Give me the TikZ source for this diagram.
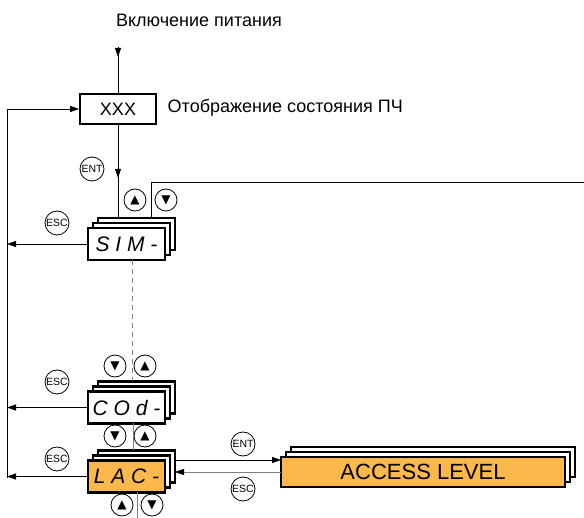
\documentclass[tikz,border=0pt]{standalone}
\usepackage{fontspec}
\setmainfont{Liberation Sans}
\newfontfamily\symfont{DejaVu Sans}
\usetikzlibrary{arrows.meta, positioning, calc, backgrounds, decorations.markings}
\definecolor{lacorange}{RGB}{251,184,77}
\definecolor{linegray}{RGB}{128,128,128}

\tikzset{
  tip/.style={-{Triangle[length=9pt,width=6pt]}},
  midtip/.style={postaction={decorate}, decoration={markings, mark=at position #1 with {\arrow{Triangle[length=9pt,width=6pt]}}}},
  disp/.style={draw, line width=2.2pt, fill=white, outer sep=0pt, minimum width=77pt, minimum height=32pt, inner sep=0pt, font=\fontsize{21}{21}\selectfont\itshape},
  layer/.style={draw, line width=2.2pt, fill=white},
  btn/.style={circle, draw, line width=0.8pt, minimum size=24pt, inner sep=0pt, font=\fontsize{10.5}{10.5}\selectfont},
  key/.style={circle, draw, line width=0.8pt, minimum size=22pt, inner sep=0pt, font=\symfont\fontsize{12}{12}\selectfont},
  lbl/.style={font=\fontsize{18}{20}\selectfont},
}

\begin{document}
\begin{tikzpicture}[x=1pt, y=-1pt, line width=0.8pt]
    \useasboundingbox (0,0) rectangle (584,518);

    % status display
    \node[lbl] (pwrtxt) at (199,20) {Включение питания};
    \node[draw, line width=1.8pt, minimum width=76pt, minimum height=30pt, inner sep=0pt, lbl] (xxx) at (118,109) {XXX};
    \node[lbl, anchor=west] (state) at (164,108) {Отображение состояния ПЧ};
    \coordinate (pwr) at (118,47);

    % menu displays
    \node[disp] (sim) at (126.5,244) {S I M -};
    \node[disp] (cod) at (126.5,407.5) {C O d -};
    \node[disp, fill=lacorange] (lac) at (126.5,476.5) {L A C -};
    \node[disp, fill=lacorange, minimum width=284pt, minimum height=30pt, font=\fontsize{22}{22}\selectfont] (acc) at (423,472) {ACCESS LEVEL};

    \begin{scope}[on background layer]
        \foreach \n in {sim,cod,lac,acc} {
            \foreach \k in {2,1} {
                \draw[layer] ([xshift=\k*5pt,yshift=\k*5pt]\n.south west) rectangle ([xshift=\k*5pt,yshift=\k*5pt]\n.north east);
            }
        }
    \end{scope}

    % keys
    \node[btn] (entA) at (92,169) {ENT};
    \node[key] (upA) at (135,200) {▲};
    \node[key] (dnA) at (166,200) {▼};
    \node[btn] (escA) at (57,223) {ESC};
    \node[key] (dnB) at (115,366) {▼};
    \node[key] (upB) at (145,366) {▲};
    \node[btn] (escB) at (57,382) {ESC};
    \node[key] (dnC) at (115,436) {▼};
    \node[key] (upC) at (145,436) {▲};
    \node[btn] (escC) at (57,459) {ESC};
    \node[key] (upD) at (122,505) {▲};
    \node[key] (dnD) at (152,505) {▼};
    \node[btn] (entD) at (243,444) {ENT};
    \node[btn] (escD) at (243,489) {ESC};

    % connectors
    \coordinate (simtop) at ([yshift=10pt]sim.north);
    \coordinate (simR) at ([xshift=24.5pt,yshift=10pt]sim.north);
    \coordinate (exitR) at (584,182);
    \coordinate (exitB) at (137,518);
    \coordinate (retT) at (7,109);
    \coordinate (retB) at (7,478);
    \coordinate (lacR) at ([xshift=10pt]lac.east);
    \coordinate (entR) at ([yshift=12pt]acc.west);

    \draw[midtip=10pt] (pwr) -- (xxx.north);
    \draw[midtip=53pt] (xxx.south) -- (xxx.south |- simtop);
    \draw (simR) |- (exitR);
    \draw[linegray, dash pattern=on 5pt off 4pt] ([xshift=5.5pt]sim.south) -- ([xshift=5.5pt,yshift=10pt]cod.north);
    \draw[linegray] ([xshift=6.5pt]cod.south) -- ([xshift=6.5pt,yshift=10pt]lac.north);
    \draw[linegray] ([xshift=10.5pt]lac.south) -- (exitB);

    \draw (retB) -- (retT);
    \draw[tip] (retT) -- (xxx.west);
    \foreach \n in {sim,cod,lac} {
        \draw[tip] (\n.west) -- (\n.west -| retT);
    }

    \draw[tip] (entR -| lacR) -- (entR);
    \draw[linegray, -{Triangle[length=9pt,width=6pt,black]}] (acc.west) -- (acc.west -| lacR);
\end{tikzpicture}
\end{document}
